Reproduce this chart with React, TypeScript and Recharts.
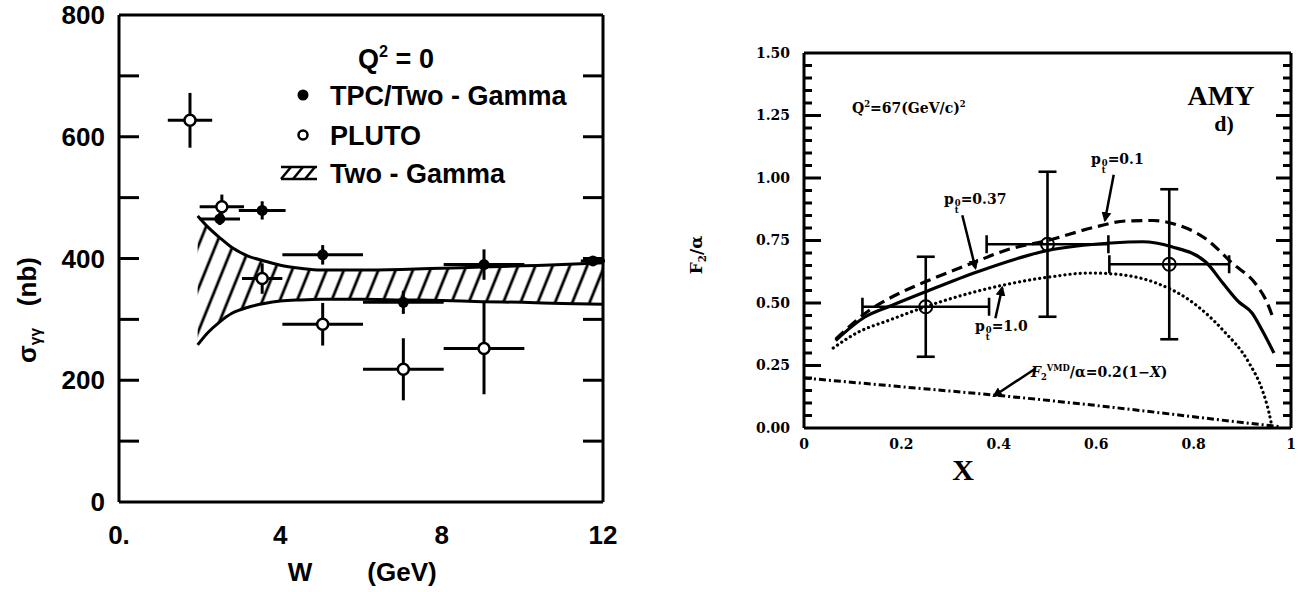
import React from 'react';
import { ComposedChart, XAxis, YAxis, Scatter, ErrorBar, Line, Area, ReferenceLine } from 'recharts';

// ---- left panel: sigma(gamma gamma) vs W, Q^2 = 0 ----
const bandW = [1.95, 2.2, 2.5, 2.8, 3.2, 3.6, 4.0, 4.5, 5, 6, 7, 8, 9, 10, 11, 12];
const bandHigh = [470, 452, 434, 418, 404, 396, 389, 384, 381, 381, 382, 384, 386, 388, 390, 393];
const bandLow = [258, 278, 296, 310, 320, 326, 330, 332, 333, 333, 332, 331, 329, 328, 326, 325];

const tpcW = [2.5, 3.55, 5.05, 7.05, 9.05, 11.75];
const tpcSigma = [465, 479, 406, 328, 390, 396];
const tpcWErr = [0.5, 0.58, 1.0, 1.0, 1.0, 0.3];
const tpcSigmaErr = [10, 15, 16, 19, 25, 0];

const plutoW = [1.76, 2.55, 3.55, 5.05, 7.05, 9.05];
const plutoSigma = [627, 485, 367, 292, 218, 252];
const plutoWErr = [0.55, 0.55, 0.5, 1.0, 1.0, 1.0];
const plutoSigmaErr = [45, 20, 25, 35, 51, 75];

const wLabelTicks = [0, 4, 8, 12];
const wMarkTicks = [2, 4, 6, 8, 10];
const sigmaLabelTicks = [0, 200, 400, 600, 800];
const sigmaMarkTicks = [100, 200, 300, 400, 500, 600, 700];

// ---- right panel: F2/alpha vs X (AMY) ----
const amyX = [0.25, 0.5, 0.75];
const amyF2 = [0.485, 0.735, 0.655];
const amyXErr = [0.13, 0.125, 0.123];
const amyF2Err = [0.2, 0.29, 0.3];

const solidX = [0.065, 0.125, 0.18, 0.25, 0.355, 0.5, 0.63, 0.695, 0.755, 0.825, 0.86, 0.893, 0.92, 0.941, 0.965];
const solidY = [0.35, 0.444, 0.49, 0.545, 0.624, 0.71, 0.74, 0.745, 0.725, 0.664, 0.58, 0.504, 0.46, 0.39, 0.3];

const dashX = [0.065, 0.135, 0.197, 0.258, 0.346, 0.416, 0.504, 0.6, 0.66, 0.717, 0.767, 0.825, 0.879, 0.928, 0.949, 0.965];
const dashY = [0.355, 0.472, 0.54, 0.592, 0.66, 0.712, 0.752, 0.805, 0.828, 0.83, 0.812, 0.757, 0.66, 0.575, 0.51, 0.43];

const dotX = [0.06, 0.108, 0.176, 0.279, 0.41, 0.504, 0.586, 0.656, 0.723, 0.791, 0.86, 0.914, 0.941, 0.955, 0.961];
const dotY = [0.32, 0.38, 0.432, 0.504, 0.572, 0.604, 0.62, 0.612, 0.58, 0.512, 0.392, 0.26, 0.152, 0.06, 0.004];

const vmdX = [0, 0.2, 0.4, 0.6, 0.8, 0.9, 0.98];
const vmdY = [0.2, 0.165, 0.13, 0.09, 0.045, 0.022, 0.005];

const xLabelTicks = [0, 0.2, 0.4, 0.6, 0.8, 1];
const xMinorTicks = [0.04, 0.08, 0.12, 0.16, 0.24, 0.28, 0.32, 0.36, 0.44, 0.48, 0.52, 0.56, 0.64, 0.68, 0.72, 0.76, 0.84, 0.88, 0.92, 0.96];
const xMajorTicks = [0.2, 0.4, 0.6, 0.8];
const fLabelTicks = [0, 0.25, 0.5, 0.75, 1, 1.25, 1.5];
const fMajorTicks = [0.25, 0.5, 0.75, 1, 1.25];
const fMinorTicks = [0.05, 0.1, 0.15, 0.2, 0.3, 0.35, 0.4, 0.45, 0.55, 0.6, 0.65, 0.7, 0.8, 0.85, 0.9, 0.95, 1.05, 1.1, 1.15, 1.2, 1.3, 1.35, 1.4, 1.45];

// arrows from labels to curves (data coords)
const arrowFrom = [[0.325, 0.851], [0.636, 1.013], [0.393, 0.439], [0.474, 0.236]];
const arrowTo = [[0.352, 0.64], [0.618, 0.831], [0.407, 0.561], [0.39, 0.128]];

const zip = (xs: number[], ys: number[]) => xs.map((x, i) => ({ x, y: ys[i] }));

const band = bandW.map((x, i) => ({ x, range: [bandLow[i], bandHigh[i]] }));
const tpc = tpcW.map((x, i) => ({ x, y: tpcSigma[i], ex: tpcWErr[i], ey: tpcSigmaErr[i] }));
const pluto = plutoW.map((x, i) => ({ x, y: plutoSigma[i], ex: plutoWErr[i], ey: plutoSigmaErr[i] }));
const amy = amyX.map((x, i) => ({ x, y: amyF2[i], ex: amyXErr[i], ey: amyF2Err[i] }));

const sans = '"Liberation Sans", Arial, sans-serif';
const serif = '"DejaVu Serif", serif';
const times = '"Liberation Serif", "Times New Roman", serif';
const ink = '#000';
const frame = { stroke: ink, strokeWidth: 3 };
const noLabel = () => <g />;

function Note({ x, y, align = 'center', rotate = 0, style, children }: any) {
  const tx = align === 'center' ? '-50%' : align === 'right' ? '-100%' : '0';
  return (
    <div
      style={{
        position: 'absolute', left: x, top: y, whiteSpace: 'nowrap', lineHeight: 1, color: ink,
        transform: `translate(${tx}, -50%) rotate(${rotate}deg)`, ...style,
      }}
    >
      {children}
    </div>
  );
}

const Sup = ({ children }: any) => (
  <span style={{ fontSize: '0.6em', position: 'relative', top: '-0.7em' }}>{children}</span>
);
const Sub = ({ children }: any) => (
  <span style={{ fontSize: '0.6em', position: 'relative', top: '0.35em' }}>{children}</span>
);
const Pt0 = () => (
  <span>
    p
    <span style={{ display: 'inline-flex', flexDirection: 'column', fontSize: '0.6em', lineHeight: 0.9, verticalAlign: '-0.2em', marginLeft: 1 }}>
      <span>0</span>
      <span>t</span>
    </span>
  </span>
);

function LeftChart() {
  return (
    <ComposedChart width={640} height={592} margin={{ top: 15, right: 37, bottom: 60, left: 59 }}>
      <defs>
        <pattern id="hatch" patternUnits="userSpaceOnUse" width="16" height="16" patternTransform="rotate(22)">
          <line x1="4" y1="-2" x2="4" y2="18" stroke={ink} strokeWidth="2.8" />
        </pattern>
      </defs>
      <XAxis
        type="number" dataKey="x" domain={[0, 12]} allowDataOverflow ticks={wLabelTicks} interval={0}
        tickFormatter={(v: number) => (v === 0 ? '0.' : String(v))}
        tickLine={false} tickSize={0} tickMargin={24} height={30} axisLine={frame}
        tick={{ fill: ink, fontSize: 26, fontWeight: 700, fontFamily: sans }}
      />
      <XAxis xAxisId="bm" type="number" domain={[0, 12]} allowDataOverflow orientation="bottom" mirror height={1}
        ticks={wMarkTicks} interval={0} tick={noLabel} tickSize={20} tickLine={frame} axisLine={false} />
      <XAxis xAxisId="tm" type="number" domain={[0, 12]} allowDataOverflow orientation="top" mirror height={1}
        ticks={wMarkTicks} interval={0} tick={noLabel} tickSize={20} tickLine={frame} axisLine={frame} />
      <YAxis
        type="number" dataKey="y" domain={[0, 800]} allowDataOverflow ticks={sigmaLabelTicks} interval={0}
        tickLine={false} tickSize={0} tickMargin={14} width={60} axisLine={frame}
        tick={{ fill: ink, fontSize: 26, fontWeight: 700, fontFamily: sans }}
      />
      <YAxis yAxisId="lm" type="number" domain={[0, 800]} allowDataOverflow orientation="left" mirror width={1}
        ticks={sigmaMarkTicks} interval={0} tick={noLabel} tickSize={20} tickLine={frame} axisLine={false} />
      <YAxis yAxisId="rm" type="number" domain={[0, 800]} allowDataOverflow orientation="right" mirror width={1}
        ticks={sigmaMarkTicks} interval={0} tick={noLabel} tickSize={20} tickLine={frame} axisLine={frame} />

      <Area data={band} dataKey="range" type="monotone" stroke={ink} strokeWidth={3}
        fill="url(#hatch)" fillOpacity={1} dot={false} activeDot={false} isAnimationActive={false} />

      <Scatter data={tpc} isAnimationActive={false}
        shape={(p: any) => <circle cx={p.cx} cy={p.cy} r={5.5} fill={ink} />}>
        <ErrorBar dataKey="ex" direction="x" width={0} stroke={ink} strokeWidth={3} />
        <ErrorBar dataKey="ey" direction="y" width={0} stroke={ink} strokeWidth={3} />
      </Scatter>
      <Scatter data={pluto} isAnimationActive={false}
        shape={(p: any) => <circle cx={p.cx} cy={p.cy} r={5.5} fill="#fff" stroke={ink} strokeWidth={2.5} />}>
        <ErrorBar dataKey="ex" direction="x" width={0} stroke={ink} strokeWidth={3} />
        <ErrorBar dataKey="ey" direction="y" width={0} stroke={ink} strokeWidth={3} />
      </Scatter>
    </ComposedChart>
  );
}

function RightChart() {
  const axisFont = { fill: ink, fontSize: 14, fontWeight: 700, fontFamily: serif };
  return (
    <ComposedChart width={658} height={592} margin={{ top: 53, right: 7, bottom: 134, left: 104 }}>
      <defs>
        <marker id="ah" viewBox="0 0 10 10" refX="8" refY="5" markerWidth="4" markerHeight="4" orient="auto">
          <path d="M0,0 L10,5 L0,10 z" fill={ink} />
        </marker>
      </defs>
      <XAxis
        type="number" dataKey="x" domain={[0, 1]} allowDataOverflow ticks={xLabelTicks} interval={0}
        tickFormatter={(v: number) => (v === 0 || v === 1 ? String(v) : v.toFixed(1))}
        tickLine={false} tickSize={0} tickMargin={11} height={30} axisLine={frame} tick={axisFont}
      />
      <XAxis xAxisId="bM" type="number" domain={[0, 1]} allowDataOverflow orientation="bottom" mirror height={1}
        ticks={xMajorTicks} interval={0} tick={noLabel} tickSize={18} tickLine={frame} axisLine={false} />
      <XAxis xAxisId="bm" type="number" domain={[0, 1]} allowDataOverflow orientation="bottom" mirror height={1}
        ticks={xMinorTicks} interval={0} tick={noLabel} tickSize={6} tickLine={frame} axisLine={false} />
      <XAxis xAxisId="tM" type="number" domain={[0, 1]} allowDataOverflow orientation="top" mirror height={1}
        ticks={xMajorTicks} interval={0} tick={noLabel} tickSize={18} tickLine={frame} axisLine={frame} />
      <XAxis xAxisId="tm" type="number" domain={[0, 1]} allowDataOverflow orientation="top" mirror height={1}
        ticks={xMinorTicks} interval={0} tick={noLabel} tickSize={6} tickLine={frame} axisLine={false} />
      <YAxis
        type="number" dataKey="y" domain={[0, 1.5]} allowDataOverflow ticks={fLabelTicks} interval={0}
        tickFormatter={(v: number) => v.toFixed(2)}
        tickLine={false} tickSize={0} tickMargin={14} width={60} axisLine={frame} tick={axisFont}
      />
      <YAxis yAxisId="lM" type="number" domain={[0, 1.5]} allowDataOverflow orientation="left" mirror width={1}
        ticks={fMajorTicks} interval={0} tick={noLabel} tickSize={17} tickLine={frame} axisLine={false} />
      <YAxis yAxisId="lm" type="number" domain={[0, 1.5]} allowDataOverflow orientation="left" mirror width={1}
        ticks={fMinorTicks} interval={0} tick={noLabel} tickSize={7} tickLine={frame} axisLine={false} />
      <YAxis yAxisId="rM" type="number" domain={[0, 1.5]} allowDataOverflow orientation="right" mirror width={1}
        ticks={fMajorTicks} interval={0} tick={noLabel} tickSize={15} tickLine={frame} axisLine={frame} />
      <YAxis yAxisId="rm" type="number" domain={[0, 1.5]} allowDataOverflow orientation="right" mirror width={1}
        ticks={fMinorTicks} interval={0} tick={noLabel} tickSize={7} tickLine={frame} axisLine={false} />

      <Line data={zip(vmdX, vmdY)} dataKey="y" type="monotone" stroke={ink} strokeWidth={3}
        strokeDasharray="7 3 2 3" dot={false} activeDot={false} isAnimationActive={false} />
      <Line data={zip(dotX, dotY)} dataKey="y" type="monotone" stroke={ink} strokeWidth={3.2}
        strokeDasharray="0.1 5" strokeLinecap="round" dot={false} activeDot={false} isAnimationActive={false} />
      <Line data={zip(dashX, dashY)} dataKey="y" type="monotone" stroke={ink} strokeWidth={3.2}
        strokeDasharray="11 6" dot={false} activeDot={false} isAnimationActive={false} />
      <Line data={zip(solidX, solidY)} dataKey="y" type="monotone" stroke={ink} strokeWidth={3.2}
        dot={false} activeDot={false} isAnimationActive={false} />

      {arrowFrom.map((f, i) => (
        <ReferenceLine key={i} segment={[{ x: f[0], y: f[1] }, { x: arrowTo[i][0], y: arrowTo[i][1] }]}
          stroke={ink} strokeWidth={2.5} markerEnd="url(#ah)" />
      ))}

      <Scatter data={amy} isAnimationActive={false}
        shape={(p: any) => <circle cx={p.cx} cy={p.cy} r={6.5} fill="none" stroke={ink} strokeWidth={2} />}>
        <ErrorBar dataKey="ex" direction="x" width={9} stroke={ink} strokeWidth={2.6} />
        <ErrorBar dataKey="ey" direction="y" width={9} stroke={ink} strokeWidth={2.6} />
      </Scatter>
    </ComposedChart>
  );
}

export default function App() {
  const legend = { fontFamily: sans, fontWeight: 700, fontSize: 27 };
  const note = { fontFamily: serif, fontWeight: 700, fontSize: 14 };
  return (
    <div style={{ position: 'absolute', left: 0, top: 0, width: 1298, height: 592, background: '#fff', overflow: 'hidden' }}>
      <div style={{ position: 'absolute', left: 0, top: 0 }}>
        <LeftChart />
      </div>
      <div style={{ position: 'absolute', left: 640, top: 0 }}>
        <RightChart />
      </div>

      {/* left panel texts */}
      <Note x={27} y={310} rotate={-90} style={{ fontFamily: sans, fontWeight: 700, fontSize: 26 }}>
        σ<Sub>γγ</Sub>&nbsp;&nbsp;&nbsp;(nb)
      </Note>
      <Note x={300} y={572} style={{ fontFamily: sans, fontWeight: 700, fontSize: 26 }}>W</Note>
      <Note x={402} y={572} style={{ fontFamily: sans, fontWeight: 700, fontSize: 26 }}>(GeV)</Note>

      <Note x={396} y={59} style={legend}>Q<Sup>2</Sup> = 0</Note>
      <svg style={{ position: 'absolute', left: 296, top: 88 }} width="14" height="14">
        <circle cx="7" cy="7" r="5.5" fill={ink} />
      </svg>
      <Note x={330} y={96} align="left" style={legend}>TPC/Two - Gamma</Note>
      <svg style={{ position: 'absolute', left: 296, top: 128 }} width="14" height="14">
        <circle cx="7" cy="7" r="4.5" fill="#fff" stroke={ink} strokeWidth="2.5" />
      </svg>
      <Note x={330} y={136} align="left" style={legend}>PLUTO</Note>
      <svg style={{ position: 'absolute', left: 279, top: 165 }} width="42" height="16">
        <line x1="2" y1="2" x2="38" y2="2" stroke={ink} strokeWidth="2.5" />
        <line x1="2" y1="14" x2="38" y2="14" stroke={ink} strokeWidth="2.5" />
        <line x1="2" y1="14" x2="12" y2="2" stroke={ink} strokeWidth="2.5" />
        <line x1="14" y1="14" x2="24" y2="2" stroke={ink} strokeWidth="2.5" />
        <line x1="26" y1="14" x2="36" y2="2" stroke={ink} strokeWidth="2.5" />
      </svg>
      <Note x={330} y={174} align="left" style={legend}>Two - Gamma</Note>

      {/* right panel texts */}
      <Note x={696} y={255} rotate={-90} style={{ fontFamily: serif, fontWeight: 700, fontSize: 17 }}>
        F<Sub>2</Sub>/α
      </Note>
      <Note x={963} y={470} style={{ fontFamily: times, fontWeight: 700, fontSize: 30 }}>X</Note>
      <Note x={852} y={108} align="left" style={note}>
        Q<Sup>2</Sup>=67(GeV/c)<Sup>2</Sup>
      </Note>
      <Note x={1221} y={96} style={{ fontFamily: times, fontWeight: 700, fontSize: 28 }}>AMY</Note>
      <Note x={1224} y={124} style={{ fontFamily: times, fontWeight: 700, fontSize: 22 }}>d)</Note>
      <Note x={944} y={203} align="left" style={note}><Pt0 />=0.37</Note>
      <Note x={1091} y={163} align="left" style={note}><Pt0 />=0.1</Note>
      <Note x={975} y={330} align="left" style={note}><Pt0 />=1.0</Note>
      <Note x={1031} y={372} align="left" style={note}>
        <i>F</i><Sub>2</Sub><Sup>VMD</Sup>/α=0.2(1−<i>X</i>)
      </Note>
    </div>
  );
}
